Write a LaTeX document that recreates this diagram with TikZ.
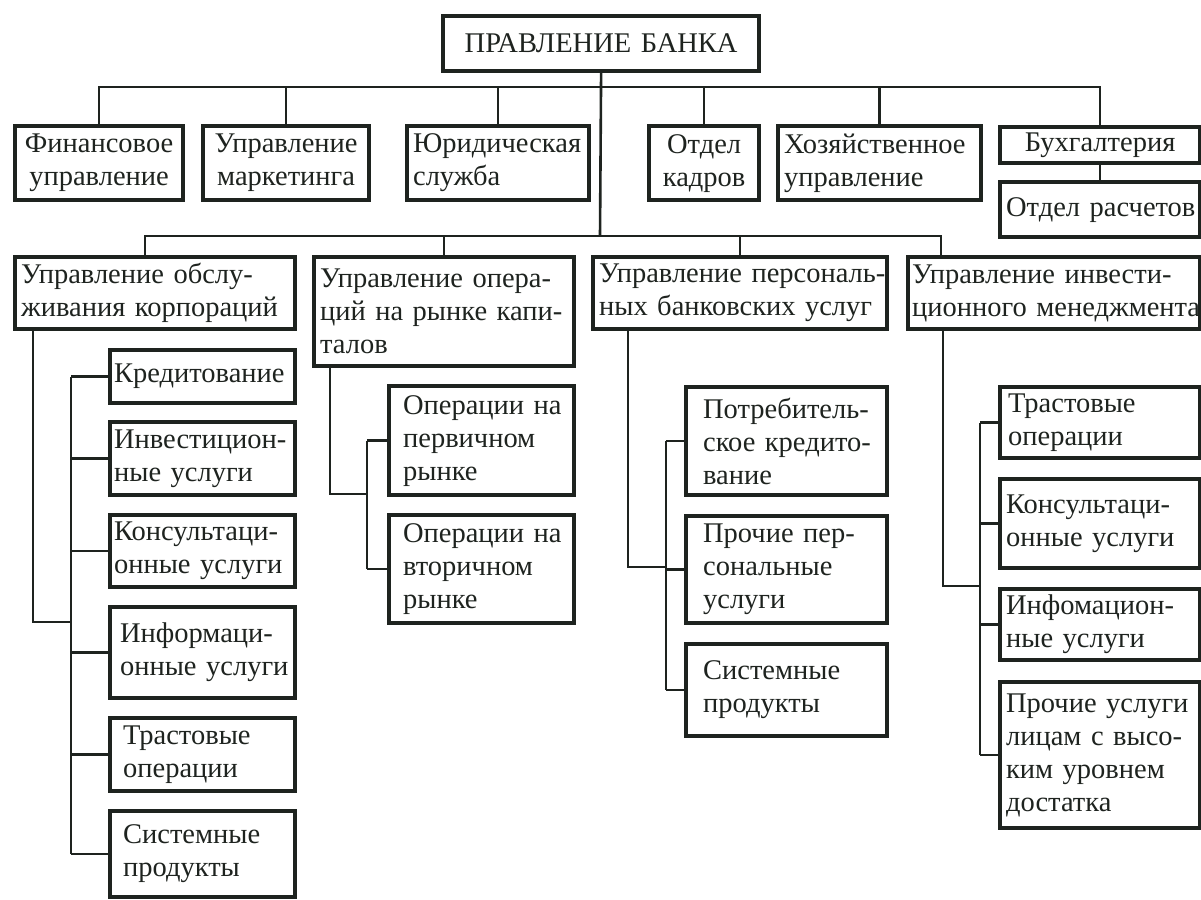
\documentclass[tikz,border=0pt]{standalone}
\usepackage{fontspec}
\setmainfont{Liberation Serif}
\usetikzlibrary{positioning, calc}
\definecolor{ink}{HTML}{1E231F}
\newcommand\unitfont{\fontsize{28.5}{33}\selectfont}

\begin{document}
\begin{tikzpicture}[x=1pt, y=1pt,
    unit/.style={rectangle, draw=ink, line width=4.2pt, anchor=north west, inner xsep=6pt, inner ysep=0pt, align=left, font=\unitfont, text=ink,
        execute at begin node={\exhyphenpenalty=10000\relax}},
    link/.style={draw=ink, line width=2.6pt}
]
    \useasboundingbox (0,0) rectangle (1201,-899);
    \fill [white] (0,0) rectangle (1201,-899);

    \node [unit, align=center, text width=304pt, minimum height=55pt] (board) at (441,-14) {ПРАВЛЕНИЕ~БАНКА};

    \node [unit, align=center, text width=156pt, minimum height=74pt] (fin) at (13,-124) {Финансовое\\управление};
    \node [unit, align=center, text width=154pt, minimum height=74pt] (mark) at (201,-124) {Управление\\маркетинга};
    \node [unit, text width=170pt, minimum height=74pt] (jur) at (405,-124) {Юридическая\\служба};
    \node [unit, align=center, text width=98pt, minimum height=74pt] (kadr) at (647,-124) {Отдел\\кадров};
    \node [unit, text width=191pt, minimum height=74pt] (hoz) at (776,-124) {Хозяйственное\\управление};
    \node [unit, align=center, text width=188pt, minimum height=36pt] (buh) at (998,-125) {Бухгалтерия};
    \node [unit, align=center, text width=188pt, minimum height=55pt] (ras) at (998,-180) {Отдел~расчетов};

    \node [unit, text width=268pt, minimum height=72pt] (corp) at (13,-255) {Управление~обслу-\\живания~корпораций};
    \node [unit, text width=248pt, minimum height=109pt] (kap) at (312,-255) {Управление~опера-\\ций~на~рынке~капи-\\талов};
    \node [unit, text width=282pt, minimum height=72pt] (pers) at (591,-255) {Управление~персональ-\\ных~банковских~услуг};
    \node [unit, inner xsep=4pt, text width=284pt, minimum height=72pt] (invm) at (906,-255) {Управление~инвести-\\ционного~менеджмента};

    \node [unit, inner xsep=4pt, text width=177pt, minimum height=53pt] (kred) at (108,-348) {Кредитование};
    \node [unit, inner xsep=4pt, text width=177pt, minimum height=73pt] (inv) at (108,-420) {Инвестицион-\\ные~услуги};
    \node [unit, inner xsep=4pt, text width=177pt, minimum height=72pt] (kons) at (108,-513) {Консультаци-\\онные~услуги};
    \node [unit, inner xsep=10pt, text width=165pt, minimum height=91pt] (inf) at (108,-605) {Информаци-\\онные~услуги};
    \node [unit, inner xsep=13pt, text width=159pt, minimum height=73pt] (trA) at (108,-716) {Трастовые\\операции};
    \node [unit, inner xsep=13pt, text width=159pt, minimum height=86pt] (sisA) at (108,-809) {Системные\\продукты};

    \node [unit, inner xsep=14pt, text width=157pt, minimum height=109pt] (perv) at (387,-384) {Операции~на\\первичном\\рынке};
    \node [unit, inner xsep=14pt, text width=157pt, minimum height=108pt] (vtor) at (387,-513) {Операции~на\\вторичном\\рынке};

    \node [unit, inner xsep=17pt, text width=167pt, minimum height=108pt] (potr) at (684,-385) {Потребитель-\\ское~кредито-\\вание};
    \node [unit, inner xsep=17pt, text width=167pt, minimum height=107pt] (proch) at (684,-514) {Прочие~пер-\\сональные\\услуги};
    \node [unit, inner xsep=17pt, text width=167pt, minimum height=92pt] (sisC) at (684,-642) {Системные\\продукты};

    \node [unit, inner xsep=8pt, text width=184pt, minimum height=71pt] (trD) at (998,-385) {Трастовые\\операции};
    \node [unit, inner xsep=6pt, text width=188pt, minimum height=89pt] (konsD) at (998,-477) {Консультаци-\\онные~услуги};
    \node [unit, inner xsep=6pt, text width=188pt, minimum height=71pt] (infD) at (998,-587) {Инфомацион-\\ные~услуги};
    \node [unit, inner xsep=6pt, text width=188pt, minimum height=146pt] (prD) at (998,-680) {Прочие~услуги\\лицам~с~высо-\\ким~уровнем\\достатка};

    \coordinate (b1) at (600,-87);
    \coordinate (b2) at (600,-236);
    \coordinate (jA) at (71,-622);
    \coordinate (jB) at (367,-494);
    \coordinate (jC) at (666,-567);
    \coordinate (jD) at (980,-586);

    \draw [link] (board.south) -- (b2);
    \draw [link] (fin.north) |- (b1) -| (buh.north);
    \foreach \n in {mark, jur, kadr, hoz}
        \draw [link] (\n.north) -- (\n.north |- b1);
    \draw [link] (buh) -- (ras);

    \draw [link] ($(corp.north west)+(132,0)$) |- (b2) -| ($(invm.north west)+(35,0)$);
    \draw [link] (kap.north) -- (kap.north |- b2);
    \draw [link] (pers.north) -- (pers.north |- b2);

    \draw [link] ($(corp.south west)+(20,0)$) |- (jA);
    \draw [link] (kred.west -| jA) -- (sisA.west -| jA);
    \foreach \n in {kred, inv, kons, inf, trA, sisA}
        \draw [link] (\n.west) -- (\n.west -| jA);

    \draw [link] ($(kap.south west)+(18,0)$) |- (jB);
    \draw [link] (perv.west -| jB) -- (vtor.west -| jB);
    \foreach \n in {perv, vtor}
        \draw [link] (\n.west) -- (\n.west -| jB);

    \draw [link] ($(pers.south west)+(37,0)$) |- (jC);
    \draw [link] (potr.west -| jC) -- (sisC.west -| jC);
    \foreach \n in {potr, proch, sisC}
        \draw [link] (\n.west) -- (\n.west -| jC);

    \draw [link] ($(invm.south west)+(37,0)$) |- (jD);
    \draw [link] (trD.west -| jD) -- (prD.west -| jD);
    \foreach \n in {trD, konsD, infD, prD}
        \draw [link] (\n.west) -- (\n.west -| jD);
\end{tikzpicture}
\end{document}
